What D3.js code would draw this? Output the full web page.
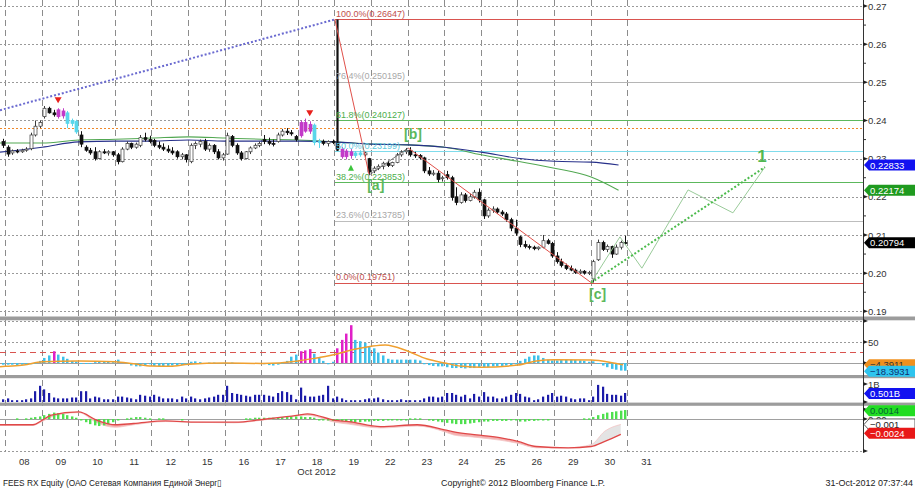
<!DOCTYPE html>
<html><head><meta charset="utf-8">
<script src="https://cdn.jsdelivr.net/npm/d3@7"></script>
<style>
body{margin:0;background:#fff}
svg{display:block}
text{font-family:"Liberation Sans",Arial,sans-serif}
</style>
</head><body>
<svg id="chart" width="915" height="488"></svg>
<script>
// ---------------- DATA ----------------
const days = ["08","09","10","11","12","15","16","17","18","19","22","23","24","25","26","29","30","31"];
const barsPerDay = 8;
const firstSlot = -1;
const priceTicks = [0.19,0.20,0.21,0.22,0.23,0.24,0.25,0.26,0.27];
// intraday candles [open, high, low, close]
const candles = [
 [.2345,.2352,.2328,.2335],
 // 08
 [.2330,.2335,.2305,.2312],[.2315,.2324,.2310,.2320],[.2320,.2325,.2314,.2318],[.2318,.2326,.2315,.2322],[.2322,.2330,.2318,.2325],[.2326,.2368,.2322,.2362],[.2362,.2400,.2358,.2385],[.2385,.2400,.2380,.2395],
 // 09
 [.2410,.2438,.2405,.2432],[.2432,.2436,.2418,.2420],[.2420,.2428,.2410,.2415],[.2428,.2432,.2405,.2410],[.2412,.2432,.2405,.2425],[.2420,.2425,.2380,.2392],[.2392,.2405,.2385,.2400],[.2398,.2402,.2365,.2370],
 // 10
 [.2362,.2372,.2330,.2338],[.2330,.2335,.2318,.2322],[.2322,.2328,.2310,.2315],[.2318,.2330,.2295,.2300],[.2300,.2322,.2298,.2318],[.2318,.2325,.2312,.2315],[.2315,.2322,.2308,.2318],[.2318,.2320,.2305,.2310],
 // 11
 [.2310,.2315,.2285,.2292],[.2292,.2330,.2290,.2325],[.2325,.2345,.2322,.2340],[.2340,.2342,.2325,.2330],[.2330,.2342,.2326,.2338],[.2335,.2362,.2330,.2355],[.2355,.2368,.2345,.2350],[.2350,.2360,.2340,.2345],
 // 12
 [.2348,.2352,.2330,.2335],[.2335,.2345,.2325,.2330],[.2330,.2340,.2320,.2325],[.2325,.2335,.2315,.2320],[.2320,.2330,.2310,.2315],[.2318,.2322,.2300,.2305],[.2305,.2315,.2298,.2310],[.2310,.2312,.2290,.2298],
 // 15
 [.2292,.2340,.2288,.2335],[.2335,.2345,.2325,.2340],[.2338,.2350,.2330,.2345],[.2345,.2352,.2320,.2325],[.2325,.2340,.2318,.2335],[.2335,.2338,.2312,.2318],[.2318,.2325,.2298,.2302],[.2302,.2315,.2295,.2310],
 // 16
 [.2312,.2368,.2310,.2360],[.2358,.2362,.2330,.2335],[.2335,.2340,.2310,.2315],[.2315,.2320,.2295,.2300],[.2300,.2320,.2298,.2318],[.2318,.2332,.2312,.2328],[.2328,.2340,.2325,.2335],[.2335,.2345,.2330,.2340],
 // 17
 [.2350,.2362,.2338,.2345],[.2345,.2355,.2335,.2340],[.2340,.2350,.2332,.2338],[.2345,.2368,.2342,.2362],[.2362,.2378,.2358,.2372],[.2372,.2380,.2362,.2368],[.2368,.2375,.2360,.2365],[.2358,.2362,.2345,.2350],
 // 18
 [.2360,.2400,.2355,.2395],[.2395,.2405,.2368,.2372],[.2372,.2398,.2365,.2390],[.2388,.2392,.2335,.2342],[.2342,.2352,.2328,.2345],[.2345,.2350,.2335,.2340],[.2340,.2348,.2332,.2345],[.2345,.2350,.2338,.2342],
 // 19
 [.2340,.26647,.2320,.2325],[.2325,.2330,.2300,.2305],[.2305,.2325,.2298,.2320],[.2318,.2325,.2300,.2308],[.2308,.2320,.2302,.2315],[.2315,.2322,.2305,.2310],[.2310,.2318,.2305,.2315],[.2300,.2302,.2257,.2265],
 // 22
 [.2268,.2280,.2262,.2275],[.2275,.2285,.2270,.2280],[.2280,.2292,.2272,.2288],[.2288,.2295,.2278,.2282],[.2282,.2292,.2278,.2290],[.2290,.2315,.2288,.2310],[.2310,.2322,.2305,.2318],[.2318,.2328,.2312,.2322],
 // 23
 [.2322,.2330,.2305,.2310],[.2310,.2318,.2302,.2308],[.2308,.2312,.2298,.2302],[.2302,.2305,.2262,.2268],[.2268,.2278,.2255,.2260],[.2260,.2270,.2255,.2262],[.2262,.2268,.2238,.2245],[.2248,.2255,.2240,.2250],
 // 24
 [.2258,.2268,.2245,.2250],[.2250,.2255,.2190,.2198],[.2200,.2225,.2178,.2185],[.2185,.2212,.2182,.2205],[.2205,.2210,.2185,.2190],[.2190,.2208,.2188,.2200],[.2200,.2218,.2195,.2212],[.2212,.2222,.2185,.2192],
 // 25
 [.2192,.2195,.2142,.2150],[.2150,.2170,.2145,.2165],[.2165,.2175,.2158,.2168],[.2168,.2172,.2155,.2160],[.2160,.2165,.2150,.2155],[.2155,.2160,.2135,.2140],[.2140,.2145,.2110,.2118],[.2118,.2140,.2098,.2105],
 // 26
 [.2095,.2098,.2068,.2075],[.2075,.2085,.2065,.2070],[.2070,.2075,.2062,.2068],[.2068,.2072,.2060,.2064],[.2064,.2070,.2060,.2068],[.2068,.2100,.2065,.2085],[.2085,.2090,.2075,.2078],[.2078,.2082,.2040,.2045],
 // 29
 [.2045,.2055,.2025,.2030],[.2030,.2038,.2015,.2020],[.2020,.2025,.2008,.2012],[.2012,.2020,.2005,.2008],[.2008,.2012,.1998,.2002],[.2002,.2010,.1998,.2005],[.2005,.2008,.1996,.2000],[.2000,.2006,.1995,.2002],
 // 30
 [.1985,.2035,.19751,.2030],[.2035,.2088,.2032,.2080],[.2080,.2085,.2058,.2062],[.2062,.2075,.2055,.2070],[.2070,.2072,.2040,.2050],[.2050,.2075,.2048,.2068],[.2068,.2085,.2062,.2080],[.2080,.2098,.2075,.20794]
];
const magentaBars = [11,12,64,65,66,73,74,75];
const cyanBars = [13,14,15,67,68,76,77];
const sellSignals = [11,66];
const buySignals = [75];

// moving averages (slot, value)
const maSlots = [-1.2,8,16,24,32,40,48,56,64,72,80,88,96,104,112,120,128,134];
const blueMA  = [.2317,.2330,.2344,.2346,.2346,.2349,.2346,.2346,.2346,.2344,.2338,.2336,.2330,.2317,.2301,.2293,.2291,.22833];
const greenMA = [.2341,.2341,.2349,.2351,.2354,.2357,.2354,.2351,.2349,.2344,.2338,.2336,.2330,.2310,.2293,.2275,.2252,.22174];

// Fibonacci retracement
const fibLabels = ["100.0%(0.26647)","76.4%(0.250195)","61.8%(0.240127)","50.0%(0.23199)","38.2%(0.223853)","23.6%(0.213785)","0.0%(0.19751)"];
const fibValues = [0.26647,0.250195,0.240127,0.23199,0.223853,0.213785,0.19751];
const fibStartSlot = 72;
const resistanceLevel = 0.2380;
// trendline (slot, value)
const trendSlots = [-1.2,72];
const trendValues = [0.2427,0.26647];
// Elliott waves: peak -> [a] -> [b] -> [c]
const waveSlots = [72,79.5,88,128];
const waveValues = [0.26647,0.2257,0.2328,0.19751];
const waveNames = ["","[a]","[b]","[c]"];
// projection
const projSlots = [128,166];
const projValues = [0.19751,0.2278];
const zigSlots = [128,134.3,139.1,149.2,159,166];
const zigValues = [0.19751,0.2095,0.2013,0.2218,0.2158,0.2278];
const projName = "1";

// oscillator panel
const oscHist = [
 -4,
 -4,-4,-5,-4,-4,-3,-2,5,
 12,18,28,20,15,10,5,3,
 0,-1,0,2,3,4,3,2,
 8,2,-2,-6,-8,-8,-6,-3,
 -7,-8,-8,-7,-6,-6,-5,-4,
 3,4,2,0,1,1,0,0,
 0,1,0,-1,-2,-1,0,-1,
 -3,-5,-6,-4,-2,5,15,20,
 28,30,33,22,12,5,-3,3,
 35,55,70,90,55,52,48,40,
 35,25,18,10,8,8,8,8,
 8,8,6,-3,-5,-7,-8,-8,
 -10,-12,-12,-12,-13,-12,-12,-10,
 -10,-10,-8,-8,-7,-6,-5,-3,
 5,10,15,18,18,12,8,6,
 6,7,8,8,7,6,5,3,
 4,0,-6,-10,-14,-16,-18,-18.3931
];
const oscHighlight = [10,64,65,66,72,73,74,75];
const oscMASlots = [-1.2,0,4,8,16,24,28,32,36,40,48,56,64,68,72,76,80,83,88,92,96,100,104,112,116,120,128,132,135];
const oscMA = [-9,-8,-5,3,5,3,-2,-7,-8,-3,0,-1,5,12,20,32,40,43,28,10,0,-8,-10,-5,5,8,7,2,-4.3911];
const oscTicks = [50];
const oscLevel = 25;

// volume (billions)
const volume = [
 0.15,
 0.2,0.1,0.1,0.1,0.15,0.2,0.6,0.9,
 0.7,0.5,0.25,0.2,0.2,0.2,0.25,0.25,
 0.6,0.6,0.2,0.3,0.25,0.15,0.15,0.15,
 0.3,0.3,0.25,0.2,0.15,0.4,0.35,0.3,
 0.4,0.3,0.2,0.2,0.2,0.15,0.3,0.2,
 0.3,0.2,0.15,0.2,0.25,0.3,0.4,0.4,
 0.9,0.5,0.45,0.4,0.35,0.3,0.4,0.4,
 0.4,0.35,0.3,0.5,0.6,0.55,0.4,0.15,
 0.8,0.35,0.3,0.3,0.35,0.4,0.9,0.2,
 0.3,0.2,0.1,0.1,0.1,0.1,0.15,0.2,
 0.2,0.25,0.15,0.1,0.1,0.1,0.15,0.1,
 0.1,0.1,0.1,0.2,0.3,0.3,0.25,0.3,
 0.5,0.5,0.4,0.3,0.4,0.2,0.45,0.3,
 0.55,0.3,0.3,0.2,0.2,0.3,0.4,0.5,
 0.45,0.3,0.25,0.1,0.15,0.3,0.4,0.5,
 0.3,0.35,0.3,0.2,0.15,0.2,0.2,0.1,
 0.3,0.95,0.85,0.45,0.4,0.4,0.35,0.501
];

// MACD panel
const macdHist = [
 0,
 0,0,0.0001,0,0.0001,0.0002,0.0003,0.0004,
 0.0006,0.0008,0.0010,0.0009,0.0008,0.0006,0.0004,0.0002,
 -0.0002,-0.0005,-0.0008,-0.0010,-0.0011,-0.0010,-0.0008,-0.0005,
 -0.0002,0,0.0001,0.0002,0.0003,0.0003,0.0002,0.0001,
 0,0.0001,0.0001,0,0,0,-0.0001,0,
 0,0,0,0,0,0,0,0,
 0,0,0,0,0.0001,0.0001,0.0002,0.0002,
 0.0002,0.0002,0.0002,0.0003,0.0003,0.0004,0.0004,0.0004,
 0.0004,0.0003,0.0003,0.0002,-0.0001,-0.0002,-0.0002,-0.0003,
 -0.0003,-0.0003,-0.0004,-0.0005,-0.0005,-0.0005,-0.0004,-0.0004,
 -0.0003,-0.0003,-0.0003,-0.0002,-0.0002,-0.0002,-0.0001,-0.0001,
 0.0001,0.0001,0.0001,0,-0.0002,-0.0003,-0.0004,-0.0005,
 -0.0006,-0.0007,-0.0008,-0.0008,-0.0008,-0.0007,-0.0006,-0.0005,
 -0.0004,-0.0004,-0.0003,-0.0003,-0.0003,-0.0003,-0.0002,-0.0002,
 -0.0004,-0.0004,-0.0003,-0.0003,-0.0002,-0.0001,-0.0001,0,
 0,0,0,0,0,0,0.0001,0.0001,
 0.0003,0.0006,0.0008,0.0010,0.0011,0.0012,0.0013,0.0014
];
const macdSlots = [-1.2,6,8,10,16,20,24,28,35,42,50,57,64,66,72,75,82,90,96,98,102,108,112,116,123,128,131,134.5];
const macdLine = [-0.0009,-0.0009,-0.0002,0.0006,0.0011,-0.0002,-0.0009,-0.0007,-0.0003,-0.0005,-0.0005,0,0.0006,0.0008,-0.0002,-0.0004,-0.0012,-0.0009,-0.0017,-0.0020,-0.0024,-0.0029,-0.0035,-0.0043,-0.0045,-0.0043,-0.0035,-0.0024];
const signalLine = [-0.0010,-0.0010,-0.0004,0.0003,0.0010,-0.0006,-0.0013,-0.0009,-0.0004,-0.0005,-0.0006,-0.0001,0.0005,0.0006,-0.0005,-0.0008,-0.0014,-0.0011,-0.0020,-0.0025,-0.0028,-0.0033,-0.0038,-0.0045,-0.0045,-0.0040,-0.0019,-0.00085];

const footerLeft = "FEES RX Equity (ОАО Сетевая Компания Единой Энерг\u25AF";
const footerMid = "Copyright\u00A9 2012 Bloomberg Finance L.P.";
const footerRight = "31-Oct-2012 07:37:44";
const monthLabel = "Oct 2012";

// ---------------- LAYOUT ----------------
const svg = d3.select("#chart");
const W = 915, axisX = 863;
const P = {main:[0,316], osc:[320,375], vol:[378,402.5], macd:[405.5,452]};

const x = d3.scaleLinear().domain([0, days.length*barsPerDay]).range([5.5, 664.3]);
const yP = d3.scaleLinear().domain([0.19,0.27]).range([311.3,6]);
const yO = d3.scaleLinear().domain([0,50]).range([363,342]);
const yV = d3.scaleLinear().domain([0,1]).range([402,384]);
const yM = d3.scaleLinear().domain([0,-0.001]).range([419,425.4]);

const defs = svg.append("defs");
function clip(id, y0, y1){
  defs.append("clipPath").attr("id",id).append("rect").attr("x",0).attr("y",y0).attr("width",axisX).attr("height",y1-y0);
}
clip("cMain",P.main[0],P.main[1]); clip("cOsc",P.osc[0],P.osc[1]); clip("cVol",P.vol[0],P.vol[1]); clip("cMacd",P.macd[0],P.macd[1]);

// vertical day separators
const daySep = d3.range(0, days.length).map(i=>i*barsPerDay);
svg.append("g").selectAll("line").data(daySep).join("line")
  .attr("x1",d=>x(d)).attr("x2",d=>x(d)).attr("y1",0).attr("y2",452)
  .attr("stroke","#8c8c8c").attr("stroke-dasharray","6,4").attr("shape-rendering","crispEdges");

// horizontal grid main
svg.append("g").selectAll("line").data(priceTicks).join("line")
  .attr("x1",0).attr("x2",axisX).attr("y1",d=>Math.round(yP(d))+0.5).attr("y2",d=>Math.round(yP(d))+0.5)
  .attr("stroke","#9a9a9a").attr("stroke-dasharray","2,2");

// panel grids
const gridOsc = [100,50];
svg.append("g").selectAll("line").data(gridOsc).join("line")
  .attr("x1",0).attr("x2",axisX).attr("y1",d=>Math.round(yO(d))+0.5).attr("y2",d=>Math.round(yO(d))+0.5)
  .attr("stroke","#9a9a9a").attr("stroke-dasharray","2,2");
svg.append("line").attr("x1",0).attr("x2",axisX).attr("y1",yO(oscLevel)).attr("y2",yO(oscLevel))
  .attr("stroke","#d9534f").attr("stroke-dasharray","6,4");
svg.append("line").attr("x1",0).attr("x2",axisX).attr("y1",Math.round(yO(0))+0.5).attr("y2",Math.round(yO(0))+0.5)
  .attr("stroke","#a0a0a0");
svg.append("line").attr("x1",0).attr("x2",axisX).attr("y1",Math.round(yM(0))+0.5).attr("y2",Math.round(yM(0))+0.5)
  .attr("stroke","#a0a0a0");
svg.append("line").attr("x1",0).attr("x2",axisX).attr("y1",451.5).attr("y2",451.5)
  .attr("stroke","#9a9a9a").attr("stroke-dasharray","2,2");

// ---------------- MAIN PANEL ----------------
const gm = svg.append("g").attr("clip-path","url(#cMain)");

// fib lines
const fibColors = ["#d9534f","#b5b5b5","#5cb85c","#7fdcec","#5cb85c","#bdbdbd","#d9534f"];
const fibText = ["#c0504d","#a8a8a8","#4cae4c","#5fc8dc","#4cae4c","#a8a8a8","#c0504d"];
gm.selectAll(".fib").data(fibValues).join("line")
  .attr("x1",x(fibStartSlot)).attr("x2",axisX)
  .attr("y1",d=>Math.round(yP(d))+0.5).attr("y2",d=>Math.round(yP(d))+0.5)
  .attr("stroke",(d,i)=>fibColors[i]).attr("stroke-width",1);
// resistance (orange dotted)
gm.append("line").attr("x1",0).attr("x2",axisX)
  .attr("y1",Math.round(yP(resistanceLevel))+0.5).attr("y2",Math.round(yP(resistanceLevel))+0.5)
  .attr("stroke","#f0892a").attr("stroke-dasharray","2,2");

// trend line
gm.append("line").attr("x1",x(trendSlots[0])).attr("y1",yP(trendValues[0]))
  .attr("x2",x(trendSlots[1])).attr("y2",yP(trendValues[1]))
  .attr("stroke","#6a6ad0").attr("stroke-width",2).attr("stroke-dasharray","2,2");

// moving averages
const maLine = d3.line().x(d=>x(d[0])).y(d=>yP(d[1])).curve(d3.curveMonotoneX);
gm.append("path").attr("d",maLine(maSlots.map((s,i)=>[s,greenMA[i]]))).attr("fill","none").attr("stroke","#52a852").attr("stroke-width",1.1);
gm.append("path").attr("d",maLine(maSlots.map((s,i)=>[s,blueMA[i]]))).attr("fill","none").attr("stroke","#27308a").attr("stroke-width",1.1);

// candles
const cd = candles.map((d,i)=>({slot:i+firstSlot,o:d[0],h:d[1],l:d[2],c:d[3]}));
function candleColor(d){
  if (magentaBars.includes(d.slot)) return {f:"#c23ac8",s:"#c23ac8"};
  if (cyanBars.includes(d.slot)) return {f:"#5ad6ea",s:"#5ad6ea"};
  if (d.c>=d.o) return {f:"#ffffff",s:"#3a3a3a"};
  return {f:"#111",s:"#111"};
}
gm.selectAll(".wick").data(cd).join("line")
  .attr("x1",d=>Math.round(x(d.slot+0.5))+0.5).attr("x2",d=>Math.round(x(d.slot+0.5))+0.5)
  .attr("y1",d=>yP(d.h)).attr("y2",d=>yP(d.l))
  .attr("stroke",d=>candleColor(d).s==="#ffffff"?"#3a3a3a":candleColor(d).s)
  .attr("stroke-width",d=>(d.h-d.l)>0.01?2.2:1);
gm.selectAll(".body").data(cd).join("rect")
  .attr("x",d=>Math.round(x(d.slot+0.5))-1).attr("width",3)
  .attr("y",d=>yP(Math.max(d.o,d.c))).attr("height",d=>Math.max(1,Math.abs(yP(d.o)-yP(d.c))))
  .attr("fill",d=>candleColor(d).f).attr("stroke",d=>candleColor(d).s).attr("stroke-width",0.7);

// signals
gm.selectAll(".sell").data(sellSignals).join("path")
  .attr("d",s=>{const cx=x(s+0.5), cy=yP(cd[s-firstSlot].h)-8; return `M${cx-3.5},${cy-3}L${cx+3.5},${cy-3}L${cx},${cy+3}Z`;})
  .attr("fill","#e8201c");
gm.selectAll(".buy").data(buySignals).join("path")
  .attr("d",s=>{const cx=x(s+0.5), cy=yP(cd[s-firstSlot].l)+9; return `M${cx-3},${cy+3}L${cx+3},${cy+3}L${cx},${cy-3}Z`;})
  .attr("fill","#3cc43c");

// wave lines
const wl = d3.line().x(d=>x(d[0])).y(d=>yP(d[1]));
gm.append("path").attr("d",wl([[waveSlots[0],waveValues[0]],[waveSlots[1],waveValues[1]]])).attr("fill","none").attr("stroke","#e0504a").attr("stroke-width",1);
gm.append("path").attr("d",wl([[waveSlots[1],waveValues[1]],[waveSlots[2],waveValues[2]]])).attr("fill","none").attr("stroke","#555").attr("stroke-width",0.8);
gm.append("path").attr("d",wl([[waveSlots[2],waveValues[2]],[waveSlots[3],waveValues[3]]])).attr("fill","none").attr("stroke","#e0504a").attr("stroke-width",1);
// projection
gm.append("path").attr("d",wl(zigSlots.map((s,i)=>[s,zigValues[i]]))).attr("fill","none").attr("stroke","#9acb9a").attr("stroke-width",1);
gm.append("path").attr("d",wl(projSlots.map((s,i)=>[s,projValues[i]]))).attr("fill","none").attr("stroke","#4cbb4c").attr("stroke-width",2).attr("stroke-dasharray","2,2");

// fib labels
gm.selectAll(".fibt").data(fibValues).join("text")
  .attr("x",x(fibStartSlot)+1).attr("y",d=>yP(d)-2.5)
  .attr("font-size","9px").attr("fill",(d,i)=>fibText[i]).text((d,i)=>fibLabels[i]);

// wave labels
const waveOffsets = [null,[-2,15],[-4,-9],[-2,16]];
waveNames.forEach((n,i)=>{ if(!n) return;
  gm.append("text").attr("x",x(waveSlots[i])+waveOffsets[i][0]).attr("y",yP(waveValues[i])+waveOffsets[i][1])
   .attr("font-size","14px").attr("font-weight","bold").attr("fill","#5cb85c").text(n);
});
gm.append("text").attr("x",x(projSlots[1])-3).attr("y",yP(projValues[1])-5).attr("text-anchor","middle")
  .attr("font-size","17px").attr("font-weight","bold").attr("fill","#52b852").text(projName);

// ---------------- OSC PANEL ----------------
const go = svg.append("g").attr("clip-path","url(#cOsc)");
go.selectAll("rect").data(oscHist).join("rect")
  .attr("x",(d,i)=>Math.round(x(i+firstSlot+0.5))-1).attr("width",2.5)
  .attr("y",d=>Math.min(yO(d),yO(0))).attr("height",d=>Math.max(1,Math.abs(yO(d)-yO(0))))
  .attr("fill",(d,i)=>oscHighlight.includes(i+firstSlot)?"#e020c8":"#3ec0ea");
go.append("path").attr("d",d3.line().x(d=>x(d[0])).y(d=>yO(d[1])).curve(d3.curveMonotoneX)(oscMASlots.map((s,i)=>[s,oscMA[i]])))
  .attr("fill","none").attr("stroke","#f0a030").attr("stroke-width",1.5);

// ---------------- VOLUME PANEL ----------------
const gv = svg.append("g").attr("clip-path","url(#cVol)");
gv.selectAll("rect").data(volume).join("rect")
  .attr("x",(d,i)=>Math.round(x(i+firstSlot+0.5))-1).attr("width",2.2)
  .attr("y",d=>yV(d)).attr("height",d=>Math.max(1,yV(0)-yV(d)))
  .attr("fill","#1c1ca8");

// ---------------- MACD PANEL ----------------
const gd = svg.append("g").attr("clip-path","url(#cMacd)");
const mPts = macdSlots.map((s,i)=>({s, m:macdLine[i], g:signalLine[i]}));
const below = d3.area().x(d=>x(d.s)).y0(460).y1(d=>yM(d.m)).curve(d3.curveMonotoneX);
const above = d3.area().x(d=>x(d.s)).y0(400).y1(d=>yM(d.m)).curve(d3.curveMonotoneX);
defs.append("clipPath").attr("id","cBelow").append("path").attr("d",below(mPts));
defs.append("clipPath").attr("id","cAbove").append("path").attr("d",above(mPts));
const band = d3.area().x(d=>x(d.s)).y0(d=>yM(d.m)).y1(d=>yM(d.g)).curve(d3.curveMonotoneX);
gd.append("g").attr("clip-path","url(#cBelow)").append("path").attr("d",band(mPts)).attr("fill","#f4b0b0");
gd.append("g").attr("clip-path","url(#cAbove)").append("path").attr("d",band(mPts)).attr("fill","#e4e4e4");
gd.append("path").attr("d",d3.line().x(d=>x(d.s)).y(d=>yM(d.g)).curve(d3.curveMonotoneX)(mPts)).attr("fill","none").attr("stroke","#f2c4c4").attr("stroke-width",0.8);
gd.selectAll(".mh").data(macdHist).join("rect")
  .attr("x",(d,i)=>Math.round(x(i+firstSlot+0.5))-1).attr("width",2.4)
  .attr("y",d=>Math.min(yM(d),yM(0))).attr("height",d=>d===0?0:Math.max(1.5,Math.abs(yM(d)-yM(0))))
  .attr("fill","#4ee04e");
gd.append("path").attr("d",d3.line().x(d=>x(d.s)).y(d=>yM(d.m)).curve(d3.curveMonotoneX)(mPts)).attr("fill","none").attr("stroke","#e04848").attr("stroke-width",1.3);

// ---------------- SEPARATORS ----------------
[[316.5,3.8],[375,3.2],[402.6,3.2]].forEach(s=>{
  svg.append("rect").attr("x",0).attr("y",s[0]).attr("width",W).attr("height",s[1]).attr("fill","#9c9c9c");
});

// ---------------- AXES ----------------
svg.append("line").attr("x1",axisX+0.5).attr("x2",axisX+0.5).attr("y1",0).attr("y2",452).attr("stroke","#333");
const axP = svg.append("g").attr("transform",`translate(${axisX},0)`)
  .call(d3.axisRight(yP).tickValues(priceTicks).tickFormat(d3.format(".2f")).tickSize(0).tickPadding(5));
axP.select(".domain").remove();
axP.selectAll("text").attr("font-size","9.5px").attr("fill","#333").attr("font-family","Liberation Sans, Arial, sans-serif");
const minorTicks = priceTicks.slice(0,-1).map(t=>t+0.005);
svg.append("g").selectAll("line").data(minorTicks).join("line")
  .attr("x1",axisX).attr("x2",axisX+3).attr("y1",d=>yP(d)).attr("y2",d=>yP(d)).attr("stroke","#333");
function arrowTick(y){ svg.append("path").attr("d",`M${axisX},${y-2}L${axisX+5},${y}L${axisX},${y+2}Z`).attr("fill","#222"); }
priceTicks.forEach(t=>arrowTick(yP(t)));
// osc axis
const axO = svg.append("g").attr("transform",`translate(${axisX},0)`)
  .call(d3.axisRight(yO).tickValues(oscTicks).tickFormat(d3.format("d")).tickSize(0).tickPadding(5));
axO.select(".domain").remove();
axO.selectAll("text").attr("font-size","9.5px").attr("fill","#333");
[yO(100),yO(50),yO(0)].forEach(arrowTick);
// vol axis
svg.append("text").attr("x",axisX+5).attr("y",yV(1)+3.5).attr("font-size","9.5px").attr("fill","#333").text("1B");
[yV(1),yV(0)].forEach(arrowTick);
// macd axis
svg.append("text").attr("x",axisX+5).attr("y",yM(0)+3.5).attr("font-size","9.5px").attr("fill","#333").text("0.00");
[yM(0.0015),yM(0),yM(-0.005)].forEach(arrowTick);

// x axis day labels
const axX = svg.append("g").attr("transform","translate(0,455)")
  .call(d3.axisBottom(x).tickValues(days.map((d,i)=>i*barsPerDay+barsPerDay/2)).tickFormat((d,i)=>days[i]).tickSize(0).tickPadding(3));
axX.select(".domain").remove();
axX.selectAll("text").attr("font-size","9.5px").attr("fill","#333").attr("font-family","Liberation Sans, Arial, sans-serif");
svg.append("text").attr("x",x(8*barsPerDay+barsPerDay/2)).attr("y",474.5).attr("text-anchor","middle")
  .attr("font-size","9.5px").attr("fill","#333").text(monthLabel);

// ---------------- BADGES ----------------
function badge(y, txt, fill, tcol, stroke){
  svg.append("path").attr("d",`M${axisX+1},${y}L${axisX+6},${y-5.5}L${W},${y-5.5}L${W},${y+5.5}L${axisX+6},${y+5.5}Z`)
    .attr("fill",fill).attr("stroke",stroke||"none").attr("stroke-width",0.8);
  svg.append("text").attr("x",axisX+7).attr("y",y+3.6).attr("font-size","9.5px").attr("fill",tcol).text(txt);
}
badge(yP(blueMA[blueMA.length-1]), d3.format(".5f")(blueMA[blueMA.length-1]), "#1212f0", "#fff");
badge(yP(greenMA[greenMA.length-1]), d3.format(".5f")(greenMA[greenMA.length-1]), "#1f9a1f", "#fff");
const lastClose = candles[candles.length-1][3];
badge(yP(lastClose), d3.format(".5f")(lastClose), "#000", "#fff");
badge(yO(oscMA[oscMA.length-1]), d3.format(".4f")(oscMA[oscMA.length-1]), "#f0901e", "#333");
badge(yO(oscHist[oscHist.length-1])+0.5, d3.format(".4f")(oscHist[oscHist.length-1]), "#2ec4ee", "#10306e");
badge(yV(volume[volume.length-1])+0.5, d3.format(".3f")(volume[volume.length-1])+"B", "#1212f0", "#fff");
badge(yM(macdHist[macdHist.length-1])+0.6, d3.format(".4f")(macdHist[macdHist.length-1]), "#22dd22", "#063");
badge(yM(signalLine[signalLine.length-1]), d3.format(".3f")(signalLine[signalLine.length-1]), "#fff", "#222", "#333");
badge(yM(macdLine[macdLine.length-1])-1, d3.format(".4f")(macdLine[macdLine.length-1]), "#e81818", "#fff");

// ---------------- FOOTER ----------------
svg.append("text").attr("x",3).attr("y",486).attr("font-size","9px").attr("fill","#222")
  .attr("textLength",219).attr("lengthAdjust","spacingAndGlyphs").text(footerLeft);
svg.append("text").attr("x",441).attr("y",486).attr("font-size","9px").attr("fill","#222")
  .attr("textLength",164).attr("lengthAdjust","spacingAndGlyphs").text(footerMid);
svg.append("text").attr("x",913).attr("y",486).attr("font-size","9px").attr("fill","#222").attr("text-anchor","end")
  .text(footerRight);
</script>
</body></html>
